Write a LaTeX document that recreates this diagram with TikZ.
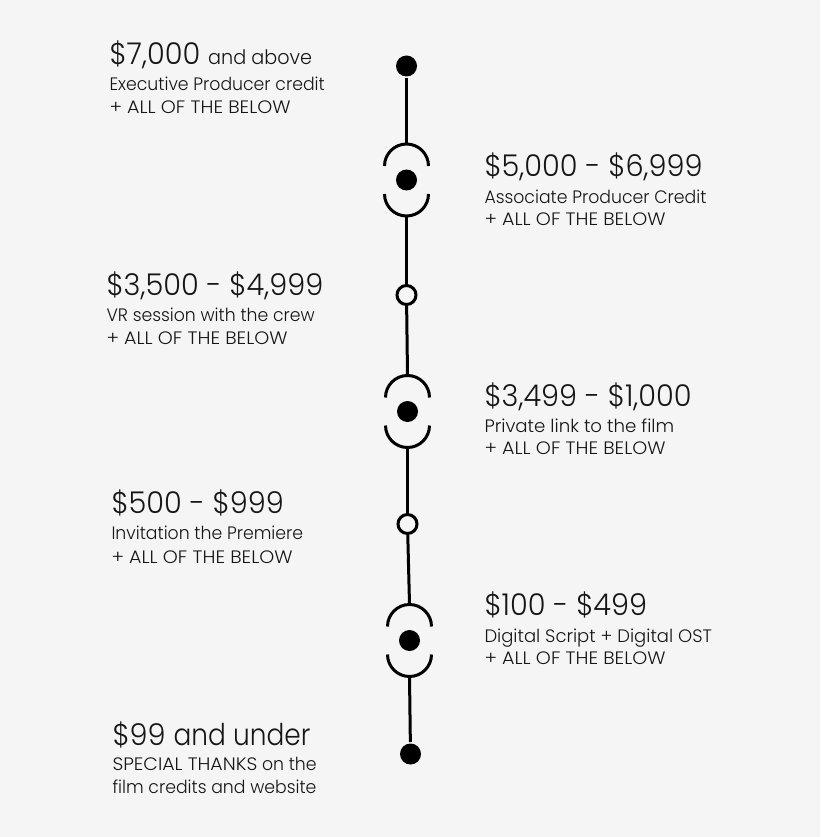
\documentclass[tikz,border=0pt]{standalone}
\usepackage{fontspec}
\setmainfont{Poppins Light}[FakeStretch=0.96]
\definecolor{bgcol}{RGB}{245,245,245}
\definecolor{inkcol}{RGB}{22,22,22}
% wider or narrower setting for some words
\newcommand{\wider}[2]{{\addfontfeature{FakeStretch=#1}#2}}
\tikzset{every picture/.style={line width=3pt}}
\tikzset{
	full dot/.style={circle, fill=black, minimum size=21pt, inner sep=0pt},
	open dot/.style={circle, draw=black, fill=bgcol, minimum size=19pt, inner sep=0pt},
	tier/.style={anchor=base west, inner sep=0pt, text=inkcol, font=\fontsize{30}{30}\selectfont},
	perk/.style={anchor=base west, inner sep=0pt, text=inkcol, font=\fontsize{18}{18}\selectfont},
	bracket/.style={line cap=butt}}
% two arcs round a dot, with coordinates at their outer ends
\newcommand{\arcpair}[1]{%
	\draw[bracket] ([shift={(-22pt,14pt)}]#1.center) arc[start angle=180, end angle=0, radius=22pt];
	\draw[bracket] ([shift={(-22pt,-14pt)}]#1.center) arc[start angle=180, end angle=360, radius=22pt];
	\coordinate (#1-top) at ([yshift=-36pt]#1.center);
	\coordinate (#1-bot) at ([yshift=36pt]#1.center);}

\begin{document}
\begin{tikzpicture}[x=1pt,y=1pt,yscale=-1,xscale=1]
	\useasboundingbox[fill=bgcol] (0,0) rectangle (820,837);
	
	% dots on the line
	\node[full dot] (d1) at (406.5,66) {};
	\node[full dot] (d2) at (406.5,180) {};
	\node[open dot] (d3) at (406.5,295) {};
	\node[full dot] (d4) at (407.5,411.5) {};
	\node[open dot] (d5) at (407.5,524) {};
	\node[full dot] (d6) at (409.5,640.5) {};
	\node[full dot] (d7) at (410.5,754) {};
	\arcpair{d2}
	\arcpair{d4}
	\arcpair{d6}
	
	% the line
	\draw (d1) -- (d2-top);
	\draw (d2-bot) -- (d3);
	\draw (d3) -- (d4-top);
	\draw (d4-bot) -- (d5);
	\draw (d5) -- (d6-top);
	\draw (d6-bot) -- (d7);
	
	% left texts
	\node[tier] (t1) at (108,65) {\$7,000 {\fontsize{20}{20}\selectfont and above}};
	\node[perk] (p1a) at (108,91) {Executive Producer credit};
	\node[perk] (p1b) at (108,114) {\wider{1.06}{+ ALL OF THE BELOW}};
	\node[tier] (t3) at (105,295) {\$3,500 - \$4,999};
	\node[perk] (p3a) at (105,321) {VR session with the crew};
	\node[perk] (p3b) at (105,344) {\wider{1.06}{+ ALL OF THE BELOW}};
	\node[tier] (t5) at (110,513) {\$500 - \$999};
	\node[perk] (p5a) at (110,539) {Invitation the Premiere};
	\node[perk] (p5b) at (110,563) {\wider{1.06}{+ ALL OF THE BELOW}};
	\node[tier] (t7) at (111,745) {\$99 \wider{0.88}{and under}};
	\node[perk] (p7a) at (111,770) {\wider{1.05}{SPECIAL THANKS} on the};
	\node[perk] (p7b) at (111,793) {film credits and website};
	
	% right texts
	\node[tier] (t2) at (483,176) {\$5,000 - \$6,999};
	\node[perk] (p2a) at (483,203) {Associate Producer Credit};
	\node[perk] (p2b) at (483,225) {\wider{1.06}{+ ALL OF THE BELOW}};
	\node[tier] (t4) at (483,406) {\$3,499 - \$1,000};
	\node[perk] (p4a) at (483,432) {\wider{1.01}{Private link to the film}};
	\node[perk] (p4b) at (483,454) {\wider{1.06}{+ ALL OF THE BELOW}};
	\node[tier] (t6) at (483,615) {\$100 - \$499};
	\node[perk] (p6a) at (483,642) {\wider{1.0}{Digital Script + Digital OST}};
	\node[perk] (p6b) at (483,664) {\wider{1.06}{+ ALL OF THE BELOW}};
\end{tikzpicture}
\end{document}
